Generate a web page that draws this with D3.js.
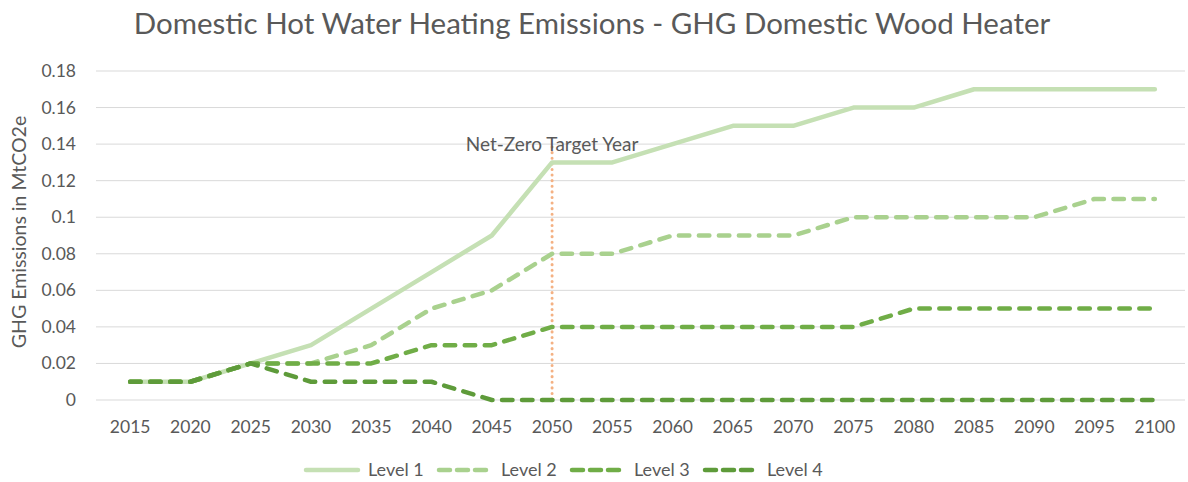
<!DOCTYPE html>
<html>
<head>
<meta charset="utf-8">
<script src="https://cdn.jsdelivr.net/npm/d3@7"></script>
<style>
  body { margin: 0; background: #fff; }
  text { font-family: Lato, "Open Sans", sans-serif; fill: #595959; }
</style>
</head>
<body>
<svg id="chart" width="1188" height="482"></svg>
<script>
// chart data
var years = ["2015","2020","2025","2030","2035","2040","2045","2050","2055","2060",
             "2065","2070","2075","2080","2085","2090","2095","2100"];
var level1 = [0.01,0.01,0.02,0.03,0.05,0.07,0.09,0.13,0.13,0.14,0.15,0.15,0.16,0.16,0.17,0.17,0.17,0.17];
var level2 = [0.01,0.01,0.02,0.02,0.03,0.05,0.06,0.08,0.08,0.09,0.09,0.09,0.10,0.10,0.10,0.10,0.11,0.11];
var level3 = [0.01,0.01,0.02,0.02,0.02,0.03,0.03,0.04,0.04,0.04,0.04,0.04,0.04,0.05,0.05,0.05,0.05,0.05];
var level4 = [0.01,0.01,0.02,0.01,0.01,0.01,0,0,0,0,0,0,0,0,0,0,0,0];
var yTicks = [0,0.02,0.04,0.06,0.08,0.1,0.12,0.14,0.16,0.18];
var targetYear = "2050";

var series = [
  {name: "Level 1", values: level1, color: "#c5e0b4", dash: null},
  {name: "Level 2", values: level2, color: "#a9d18e", dash: "10.5 9.5"},
  {name: "Level 3", values: level3, color: "#70ad47", dash: "10.5 9.5"},
  {name: "Level 4", values: level4, color: "#5e9b3a", dash: "10.5 9.5"}
];

var svg = d3.select("#chart");
var margin = {left: 100, right: 3, top: 71, bottom: 82};
var W = 1188, H = 482;

var x = d3.scaleBand().domain(years).range([margin.left, W - margin.right]);
var y = d3.scaleLinear().domain([0, 0.18]).range([H - margin.bottom, margin.top]);
var cx = function (d) { return x(d) + x.bandwidth() / 2; };

svg.append("text")
  .attr("x", 592).attr("y", 34)
  .attr("text-anchor", "middle")
  .style("font-size", "29.5px")
  .text("Domestic Hot Water Heating Emissions - GHG Domestic Wood Heater");

// gridlines + y labels
svg.append("g").selectAll("line").data(yTicks).join("line")
  .attr("x1", margin.left - 4).attr("x2", W - margin.right)
  .attr("y1", function (d) { return y(d); }).attr("y2", function (d) { return y(d); })
  .attr("stroke", "#d9d9d9").attr("stroke-width", 1);

svg.append("g").selectAll("text").data(yTicks).join("text")
  .attr("x", 76).attr("y", function (d) { return y(d) + 6; })
  .attr("text-anchor", "end")
  .style("font-size", "17.5px")
  .text(function (d) { return d3.format("~g")(d); });

svg.append("text")
  .attr("transform", "translate(26,232) rotate(-90)")
  .attr("text-anchor", "middle")
  .style("font-size", "19.5px")
  .text("GHG Emissions in MtCO2e");

// x labels
svg.append("g").selectAll("text").data(years).join("text")
  .attr("x", cx).attr("y", 433)
  .attr("text-anchor", "middle")
  .style("font-size", "17.5px")
  .text(function (d) { return d; });

// target year marker
svg.append("line")
  .attr("x1", cx(targetYear)).attr("x2", cx(targetYear))
  .attr("y1", 147).attr("y2", y(0))
  .attr("stroke", "#f4b183").attr("stroke-width", 3)
  .attr("stroke-dasharray", "0.1 5.5").attr("stroke-linecap", "round");

svg.append("text")
  .attr("x", cx(targetYear)).attr("y", 151)
  .attr("text-anchor", "middle")
  .style("font-size", "19px")
  .text("Net-Zero Target Year");

var line = d3.line()
  .x(function (d, i) { return cx(years[i]); })
  .y(function (d) { return y(d); });

series.forEach(function (s) {
  svg.append("path")
    .attr("d", line(s.values))
    .attr("fill", "none")
    .attr("stroke", s.color)
    .attr("stroke-width", 4.5)
    .attr("stroke-linecap", "round")
    .attr("stroke-linejoin", "round")
    .attr("stroke-dasharray", s.dash);
});

// legend
var legendX = [304, 437, 570, 703];
var leg = svg.append("g").selectAll("g").data(series).join("g")
  .attr("transform", function (d, i) { return "translate(" + legendX[i] + ",470)"; });
leg.append("line")
  .attr("x1", 2).attr("x2", 54)
  .attr("stroke", function (d) { return d.color; })
  .attr("stroke-width", 4.5)
  .attr("stroke-linecap", "round")
  .attr("stroke-dasharray", function (d) { return d.dash ? "11 7" : null; });
leg.append("text")
  .attr("x", 64).attr("y", 6)
  .style("font-size", "18px")
  .text(function (d) { return d.name; });
</script>
</body>
</html>
